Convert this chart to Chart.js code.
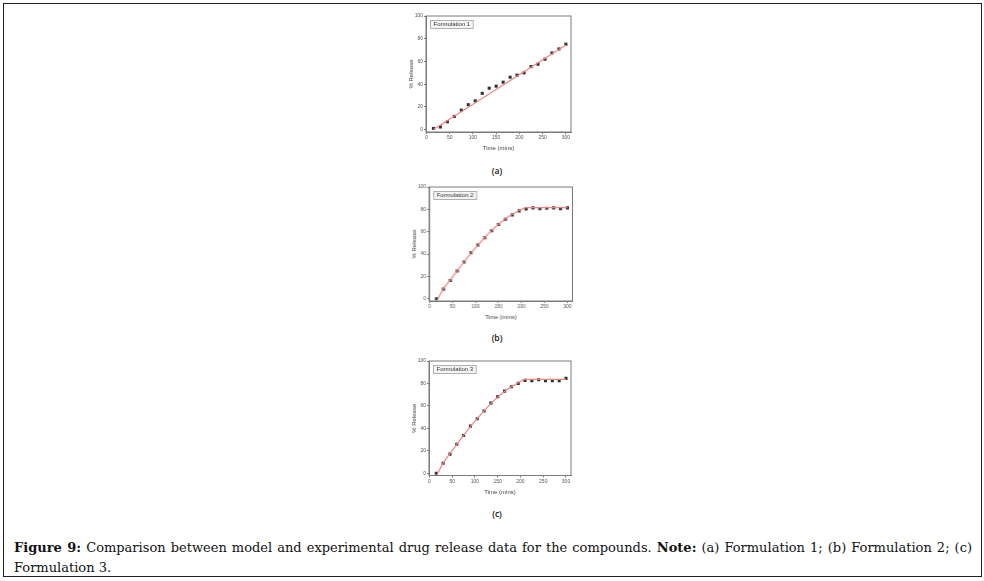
<!DOCTYPE html>
<html>
<head>
<meta charset="utf-8">
<script src="https://cdn.jsdelivr.net/npm/chart.js@4.4.1/dist/chart.umd.min.js"></script>
<style>
  body { margin: 0; width: 984px; height: 581px; background: #fff; position: relative; overflow: hidden; }
  #frame { position: absolute; left: 3px; top: 3px; width: 979px; height: 574px; border: 1px solid #222; box-sizing: border-box; }
  .box { position: absolute; }
  .sub { position: absolute; width: 40px; text-align: center; font: 600 8.5px "Open Sans"; color: #111; line-height: 10px; }
  .cap { position: absolute; left: 14px; width: 958px; font: 13px "DejaVu Serif"; color: #111; white-space: nowrap; line-height: 20px; }
  .cap b { font-weight: bold; }
</style>
</head>
<body>
<div id="frame"></div>

<div class="box" style="left:395px; top:8px; width:188px; height:148px;"><canvas id="c1"></canvas></div>
<div class="sub" style="left:477px; top:166px;">(a)</div>

<div class="box" style="left:398px; top:178.5px; width:185.5px; height:146px;"><canvas id="c2"></canvas></div>
<div class="sub" style="left:477px; top:333px;">(b)</div>

<div class="box" style="left:398px; top:352.5px; width:185px; height:146.5px;"><canvas id="c3"></canvas></div>
<div class="sub" style="left:477px; top:509px;">(c)</div>

<div class="cap" style="top:538px; text-align:justify; text-align-last:justify;"><b>Figure 9:</b> Comparison between model and experimental drug release data for the compounds. <b>Note:</b> (a) Formulation 1; (b) Formulation 2; (c)</div>
<div class="cap" style="top:558px;">Formulation 3.</div>

<script>
const times = [15, 30, 45, 60, 75, 90, 105, 120, 135, 150, 165, 180, 195, 210, 225, 240, 255, 270, 285, 300];
const xTicks = [0, 50, 100, 150, 200, 250, 300];
const yTicks = [0, 20, 40, 60, 80, 100];

// experimental points
const release1 = [1.1, 2.4, 7, 11.7, 17.2, 22, 25.4, 32, 36.5, 38.3, 41.8, 46.2, 48, 50, 55.5, 57.6, 62, 67.5, 71, 75.2];
const release2 = [0, 8.6, 16.3, 24.9, 32.9, 41.2, 48.1, 54.6, 60.8, 66.5, 71.2, 75.1, 78.6, 80.4, 81.3, 80.7, 81, 81.3, 80.7, 81.3];
const release3 = [0, 8.9, 17, 25.9, 33.6, 42, 48.5, 55.4, 62.5, 68.2, 73.2, 77.1, 80.1, 82.7, 82.4, 83.3, 82.4, 82.4, 82.4, 84.5];

// model curves
const model1Time = [15, 300];
const model1 = [0.3, 74.5];
const modelTime = [17, 30, 45, 60, 75, 90, 105, 120, 135, 150, 165, 180, 195, 210, 300];
const model2 = [-0.8, 8.8, 17, 25, 33, 40.8, 48, 54.8, 61, 66.6, 71.5, 75.6, 79, 81.6, 81.6];
const model3 = [-1, 9, 17.5, 25.8, 33.8, 41.5, 48.7, 55.6, 62, 67.8, 72.8, 77, 80.6, 83.6, 83.6];

const axisColor = "#7a7a7a";

const framePlugin = {
  id: "frame",
  afterDraw(chart, args, opts) {
    const { ctx, chartArea: a } = chart;
    ctx.save();
    ctx.strokeStyle = axisColor;
    ctx.lineWidth = 1;
    ctx.strokeRect(a.left, a.top, a.right - a.left, a.bottom - a.top);
    ctx.font = '6px "Liberation Sans"';
    const w = ctx.measureText(opts.text).width + 6;
    ctx.fillStyle = "#f4f4f4";
    ctx.fillRect(a.left + 4, a.top + 4, w, 8);
    ctx.strokeStyle = "#b0b0b0";
    ctx.strokeRect(a.left + 4.5, a.top + 4.5, w, 8);
    ctx.fillStyle = "#333";
    ctx.textBaseline = "middle";
    ctx.fillText(opts.text, a.left + 7.5, a.top + 8.8);
    ctx.restore();
  }
};

function toPoints(xs, ys) {
  return xs.map((x, i) => ({ x: x, y: ys[i] }));
}

function makeChart(id, label, obs, modelX, modelY) {
  const tickFont = { family: "Liberation Sans", size: 5 };
  const titleFont = { family: "Liberation Sans", size: 6 };
  new Chart(document.getElementById(id), {
    type: "scatter",
    data: {
      datasets: [
        {
          label: "model",
          data: toPoints(modelX, modelY),
          showLine: true,
          borderColor: "#f38383",
          borderWidth: 1.2,
          pointRadius: 0,
          cubicInterpolationMode: "monotone"
        },
        {
          label: "experimental",
          data: toPoints(times, obs),
          pointStyle: "rect",
          pointRadius: 2.2,
          backgroundColor: "#333",
          borderColor: "#333",
          borderWidth: 0
        }
      ]
    },
    options: {
      responsive: true,
      maintainAspectRatio: false,
      animation: false,
      layout: { padding: { top: 8, right: 12, left: 0, bottom: 0 } },
      plugins: {
        legend: { display: false },
        tooltip: { enabled: false },
        frame: { text: label }
      },
      scales: {
        x: {
          type: "linear",
          min: -1,
          max: 311,
          afterBuildTicks: s => { s.ticks = xTicks.map(v => ({ value: v })); },
          afterFit: s => { s.height = 24; },
          ticks: { font: tickFont, color: "#555", padding: 1, maxRotation: 0, autoSkip: false },
          grid: { drawOnChartArea: false, tickLength: 2, color: axisColor },
          border: { color: axisColor },
          title: { display: true, text: "Time (mins)", font: titleFont, color: "#444", padding: { top: 0, bottom: 4 } }
        },
        y: {
          min: -2,
          max: 100,
          afterBuildTicks: s => { s.ticks = yTicks.map(v => ({ value: v })); },
          afterFit: s => { s.width = 31; },
          ticks: { font: tickFont, color: "#555", padding: 1 },
          grid: { drawOnChartArea: false, tickLength: 2, color: axisColor },
          border: { color: axisColor },
          title: { display: true, text: "% Release", font: titleFont, color: "#444", padding: { top: 12.5, bottom: 0 } }
        }
      }
    },
    plugins: [framePlugin]
  });
}

makeChart("c1", "Formulation 1", release1, model1Time, model1);
makeChart("c2", "Formulation 2", release2, modelTime, model2);
makeChart("c3", "Formulation 3", release3, modelTime, model3);
</script>
</body>
</html>
